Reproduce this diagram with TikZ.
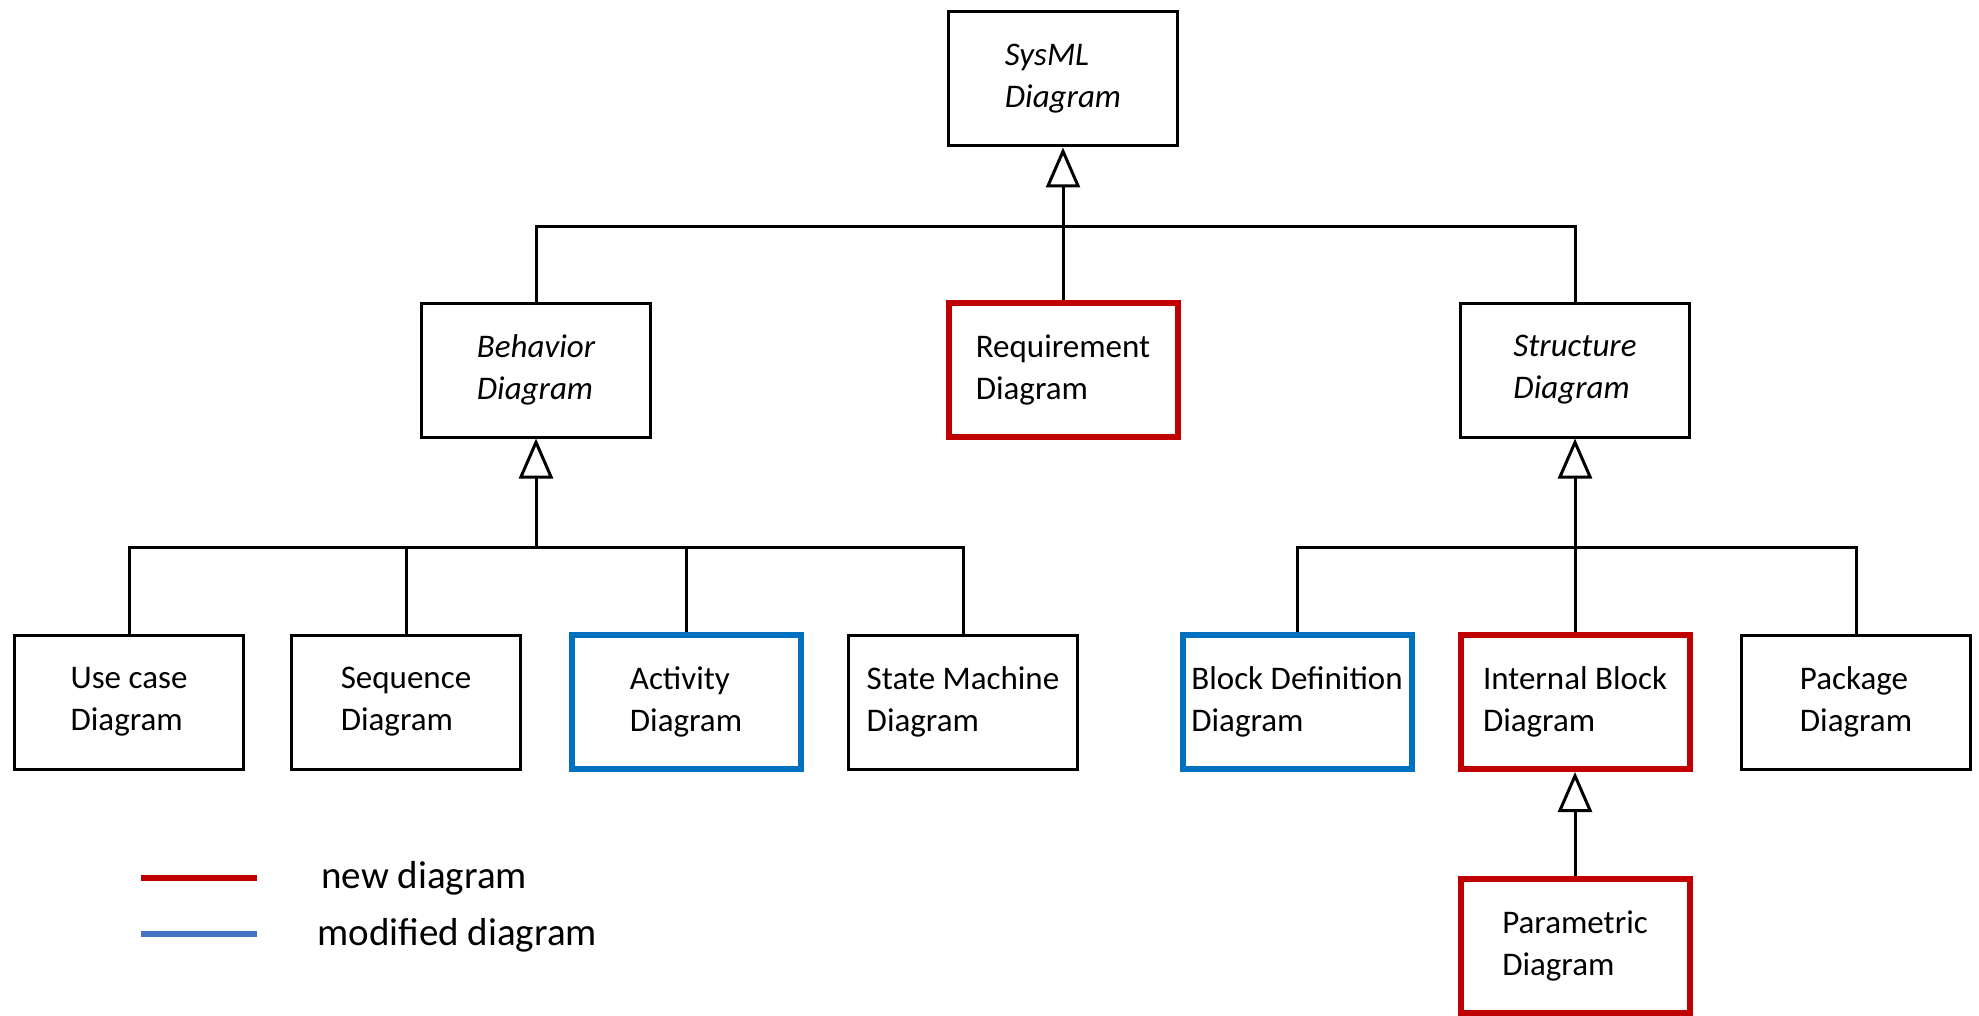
\documentclass[tikz,border=0pt]{standalone}
\usepackage{fontspec}
\setmainfont{Carlito}
\usetikzlibrary{arrows.meta}
\definecolor{newred}{HTML}{C00000}
\definecolor{modblue}{HTML}{0070C0}
\definecolor{legblue}{HTML}{4472C4}
\begin{document}
\begin{tikzpicture}[x=0.5pt,y=-0.5pt,
  box/.style={draw=black,line width=1.5pt,minimum width=114.5pt,minimum height=67pt,
    inner sep=0pt,align=left,font=\fontsize{16.5}{21}\selectfont},
  abstract/.style={box,font=\fontsize{16.5}{21}\selectfont\itshape},
  newbox/.style={box,draw=newred,line width=3pt},
  modbox/.style={box,draw=modblue,line width=3pt},
  link/.style={draw=black,line width=1.5pt},
  gen/.style={link,-{Triangle[open,length=20pt,width=17pt,line width=1.5pt]}},
  legendline/.style={line width=3pt},
  legendtext/.style={anchor=base west,inner sep=0pt,font=\fontsize{19.5}{23}\selectfont}]
\useasboundingbox (0,0) rectangle (1979,1016);

% top level
\node[abstract] (sysml) at (1063,79) {SysML\\Diagram};
\node[abstract] (behavior) at (536,370) {Behavior\\Diagram};
\node[newbox] (req) at (1063,370) {Requirement\\Diagram};
\node[abstract] (structure) at (1575,370) {Structure\\Diagram};

% behaviour diagrams
\node[box] (usecase) at (129,702) {Use case\\Diagram};
\node[box] (sequence) at (406,702) {Sequence\\Diagram};
\node[modbox] (activity) at (686,702) {Activity\\Diagram};
\node[box] (statemachine) at (963,702) {State Machine\\Diagram};

% structure diagrams
\node[modbox] (bdd) at (1297,702) {Block Definition\\Diagram};
\node[newbox] (ibd) at (1575,702) {Internal Block\\Diagram};
\node[box] (package) at (1856,702) {Package\\Diagram};
\node[newbox] (parametric) at (1575,946) {Parametric\\Diagram};

% generalisation tree
\coordinate (mj) at (1063,227);
\coordinate (bj) at (536,547);
\coordinate (sj) at (1575,547);

\draw[link] (behavior.north) |- (mj) -| (structure.north);
\draw[link] (req.north) -- (mj);
\draw[gen] (mj) -- (sysml.south);

\draw[link] (usecase.north) |- (bj) -| (statemachine.north);
\draw[link] (sequence.north) -- (sequence.north |- bj);
\draw[link] (activity.north) -- (activity.north |- bj);
\draw[gen] (bj) -- (behavior.south);

\draw[link] (bdd.north) |- (sj) -| (package.north);
\draw[link] (ibd.north) -- (sj);
\draw[gen] (sj) -- (structure.south);

\draw[gen] (parametric.north) -- (ibd.south);

% legend
\coordinate (l1a) at (141,878);
\coordinate (l1b) at (257,878);
\coordinate (l2a) at (141,934);
\coordinate (l2b) at (257,934);
\draw[legendline,newred] (l1a) -- (l1b);
\draw[legendline,legblue] (l2a) -- (l2b);
\node[legendtext] (newlbl) at (321,888) {new diagram};
\node[legendtext] (modlbl) at (317,945) {modified diagram};
\end{tikzpicture}
\end{document}
